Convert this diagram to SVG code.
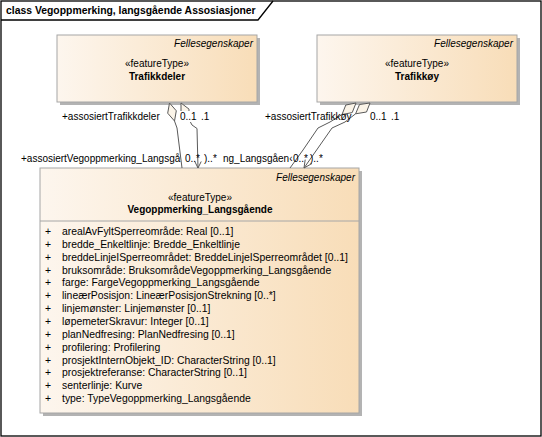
<svg xmlns="http://www.w3.org/2000/svg" width="542" height="437" viewBox="0 0 542 437">
<style>
text{font-family:"Liberation Sans",Arial,sans-serif;font-size:10px;fill:#000}
.it{font-style:italic}
.b{font-weight:bold}
.m{text-anchor:middle}
.e{text-anchor:end}
.t{font-size:10.4px}
.a text{font-size:10.4px}
.frame{fill:none;stroke:#000;stroke-width:1.3}
.box{fill:url(#g);stroke:#A6A6A6;stroke-width:1}
.shadow{fill:#B3B3B3}
.sep{stroke:#A6A6A6;stroke-width:1}
.conn{fill:none;stroke:#5A5A5A;stroke-width:1}
.dia{fill:#FBF4E8;stroke:#5A5A5A;stroke-width:1}
</style>
<defs>
<linearGradient id="g" x1="0" y1="0" x2="1" y2="0">
<stop offset="0" stop-color="#FDF6EE"/>
<stop offset="1" stop-color="#F8DDB8"/>
</linearGradient>
</defs>
<rect width="542" height="437" fill="#fff"/>
<g id="frame">
<rect class="frame" x="1" y="1" width="540" height="435"/>
<path class="frame" d="M1,20 H258 L273,1"/>
<text class="b t" x="6" y="14">class Vegoppmerking, langsgående Assosiasjoner</text>
</g>
<g id="Trafikkdeler">
<rect class="shadow" x="60" y="38" width="200" height="67"/>
<rect class="box" x="57" y="35" width="200" height="67"/>
<text class="it e" x="253" y="47">Fellesegenskaper</text>
<text class="m" x="157" y="67">«featureType»</text>
<text class="b m" x="157" y="80">Trafikkdeler</text>
</g>
<g id="Trafikkoy">
<rect class="shadow" x="320" y="38" width="200" height="67"/>
<rect class="box" x="317" y="35" width="200" height="67"/>
<text class="it e" x="513" y="47">Fellesegenskaper</text>
<text class="m" x="417" y="67">«featureType»</text>
<text class="b m" x="417" y="80">Trafikkøy</text>
</g>
<g id="Vegoppmerking_Langsgaende">
<rect class="shadow" x="43" y="171" width="319" height="245"/>
<rect class="box" x="40" y="168" width="319" height="245"/>
<line class="sep" x1="40" y1="221" x2="359" y2="221"/>
<text class="it e" x="355" y="181">Fellesegenskaper</text>
<text class="m" x="200" y="201">«featureType»</text>
<text class="b m" x="200" y="213">Vegoppmerking_Langsgående</text>
<g class="a">
<text x="45" y="235">+</text><text x="62" y="235">arealAvFyltSperreområde: Real [0..1]</text>
<text x="45" y="247.85">+</text><text x="62" y="247.85">bredde_Enkeltlinje: Bredde_Enkeltlinje</text>
<text x="45" y="260.7">+</text><text x="62" y="260.7">breddeLinjeISperreområdet: BreddeLinjeISperreområdet [0..1]</text>
<text x="45" y="273.55">+</text><text x="62" y="273.55">bruksområde: BruksområdeVegoppmerking_Langsgående</text>
<text x="45" y="286.4">+</text><text x="62" y="286.4">farge: FargeVegoppmerking_Langsgående</text>
<text x="45" y="299.25">+</text><text x="62" y="299.25">lineærPosisjon: LineærPosisjonStrekning [0..*]</text>
<text x="45" y="312.1">+</text><text x="62" y="312.1">linjemønster: Linjemønster [0..1]</text>
<text x="45" y="324.95">+</text><text x="62" y="324.95">løpemeterSkravur: Integer [0..1]</text>
<text x="45" y="337.8">+</text><text x="62" y="337.8">planNedfresing: PlanNedfresing [0..1]</text>
<text x="45" y="350.65">+</text><text x="62" y="350.65">profilering: Profilering</text>
<text x="45" y="363.5">+</text><text x="62" y="363.5">prosjektInternObjekt_ID: CharacterString [0..1]</text>
<text x="45" y="376.35">+</text><text x="62" y="376.35">prosjektreferanse: CharacterString [0..1]</text>
<text x="45" y="389.2">+</text><text x="62" y="389.2">senterlinje: Kurve</text>
<text x="45" y="402.05">+</text><text x="62" y="402.05">type: TypeVegoppmerking_Langsgående</text>
</g>
</g>
<g id="connectors">
<path class="dia" d="M169.5,103 L176.3,110.8 L174.5,121 L167.7,113.2 Z"/>
<path class="conn" d="M174.5,121 L177,128 L179.5,148 L182,168"/>
<path class="dia" d="M181,103 L189,109.1 L188.9,119.2 L181,113.1 Z"/>
<path class="conn" d="M188.9,119.2 L192,125 L197,128.5 L198,168 M194.8,161.5 L198,168 L201.2,161.5"/>
<path class="dia" d="M356,103 L352.2,112.6 L342,114.5 L345.8,105 Z"/>
<path class="conn" d="M342,114.5 L330,122 L318,128 L303,150 L290,168"/>
<path class="dia" d="M370,103 L366.5,112 L355.6,113.8 L359.5,104.5 Z"/>
<path class="conn" d="M355.6,113.8 L345,122 L332,128 L304,168 M312,163.5 L304,168 L305.2,159.6"/>
<rect x="179" y="111" width="31" height="11" fill="#fff"/>
<text x="62" y="119.5">+assosiertTrafikkdeler</text>
<text x="180" y="119.5">0..1</text>
<text x="201" y="119.5">.1</text>
<text x="265" y="119.5">+assosiertTrafikkøy</text>
<text x="370" y="119.5">0..1</text>
<text x="391" y="119.5">.1</text>
<text x="21" y="161.5">+assosiertVegoppmerking_Langsgå</text>
<text x="185" y="161.5">0..*</text>
<text x="204" y="161.5">)..*</text>
<text x="223" y="161.5">ng_Langsgåen‹</text>
<text x="293" y="161.5">0..*</text>
<text x="310" y="161.5">)..*</text>
</g>
</svg>
